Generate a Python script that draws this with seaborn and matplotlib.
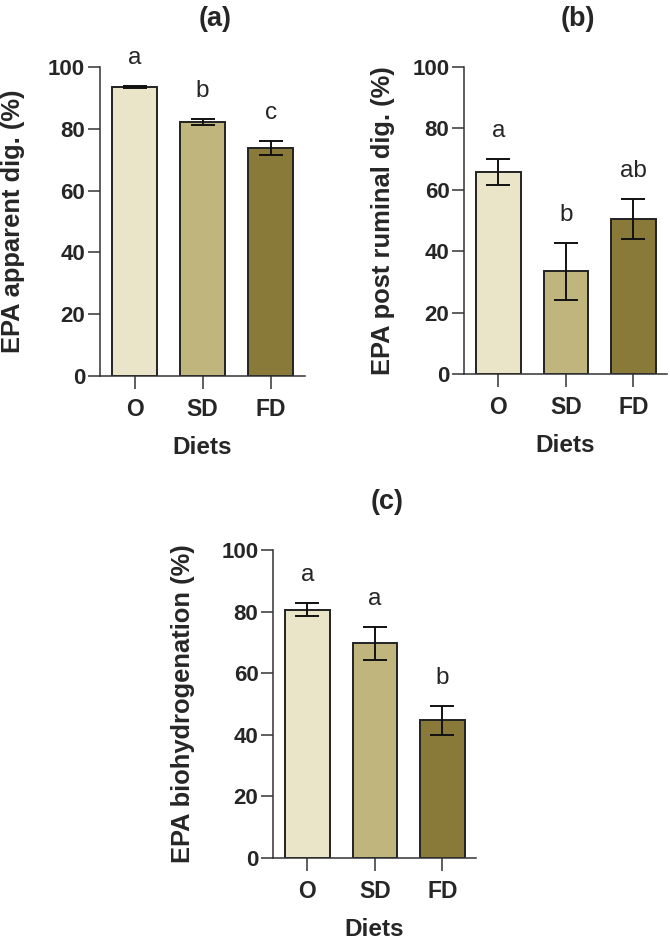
import numpy as np
import pandas as pd
import matplotlib
matplotlib.use("Agg")
import matplotlib.pyplot as plt
import seaborn as sns

# data (mean and SEM per diet)
diets = ["O", "SD", "FD"]
colors = ["#EAE4C8", "#BFB57D", "#8A7A39"]

apparent_dig = [93.6, 82.2, 73.8]
apparent_err = [0.3, 1.1, 2.3]
apparent_letters = ["a", "b", "c"]

post_ruminal = [65.8, 33.4, 50.5]
post_ruminal_err = [4.3, 9.3, 6.4]
post_ruminal_letters = ["a", "b", "ab"]

biohydrogenation = [80.6, 69.7, 44.7]
biohydrogenation_err = [2.1, 5.4, 4.6]
biohydrogenation_letters = ["a", "a", "b"]

sns.set_style("ticks")
plt.rcParams['font.family'] = ['Liberation Sans', 'DejaVu Sans']

fig = plt.figure(figsize=(6.7, 9.46), dpi=100)

# axes positions in figure fraction
ax_a = fig.add_axes([0.149, 0.6025, 0.306, 0.3266])
ax_b = fig.add_axes([0.6925, 0.6047, 0.303, 0.3245])
ax_c = fig.add_axes([0.4075, 0.093, 0.303, 0.3256])

panels = [
    (ax_a, apparent_dig, apparent_err, apparent_letters, "EPA apparent dig. (%)", "(a)", -0.366),
    (ax_b, post_ruminal, post_ruminal_err, post_ruminal_letters, "EPA post ruminal dig. (%)", "(b)", -0.34),
    (ax_c, biohydrogenation, biohydrogenation_err, biohydrogenation_letters, "EPA biohydrogenation (%)", "(c)", -0.384),
]

edge = "#222222"

for ax, vals, errs, letters, ylab, title, ylab_x in panels:
    df = pd.DataFrame({"Diet": diets, "value": vals})
    sns.barplot(data=df, x="Diet", y="value", hue="Diet", palette=colors,
                order=diets, width=0.66, edgecolor=edge, linewidth=1.4,
                saturation=1, legend=False, errorbar=None, ax=ax)
    xs = np.arange(len(diets))
    ax.errorbar(xs, vals, yerr=errs, fmt="none", ecolor="#111111",
                elinewidth=1.4, capsize=8.3, capthick=1.4, zorder=5)
    for x, v, e, lab in zip(xs, vals, errs, letters):
        ax.text(x, v + e + 5.5, lab, ha="center", va="bottom", fontsize=17.5)

    ax.set_ylim(0, 100)
    ax.set_xlim(-0.51, 2.5)
    ax.set_yticks([0, 20, 40, 60, 80, 100])
    ax.set_ylabel(ylab, fontsize=18.4, fontweight="bold")
    ax.set_xlabel("Diets", fontsize=17.5, fontweight="bold")
    ax.yaxis.set_label_coords(ylab_x, 0.5)
    ax.xaxis.set_label_coords(0.5, -0.195)
    ax.tick_params(axis="y", length=9, width=1.1, color="#333333", pad=1.5,
                   labelsize=16)
    ax.tick_params(axis="x", length=9, width=1.1, color="#333333", pad=7,
                   labelsize=16.5)
    for t in ax.get_xticklabels() + ax.get_yticklabels():
        t.set_fontweight("bold")
    for s in ["left", "bottom"]:
        ax.spines[s].set_color("#333333")
        ax.spines[s].set_linewidth(1.1)
    sns.despine(ax=ax)
    ax.text(0.56, 1.155, title, transform=ax.transAxes, ha="center",
            va="center", fontsize=19.5, fontweight="bold")

fig.savefig("out.png", dpi=100)
